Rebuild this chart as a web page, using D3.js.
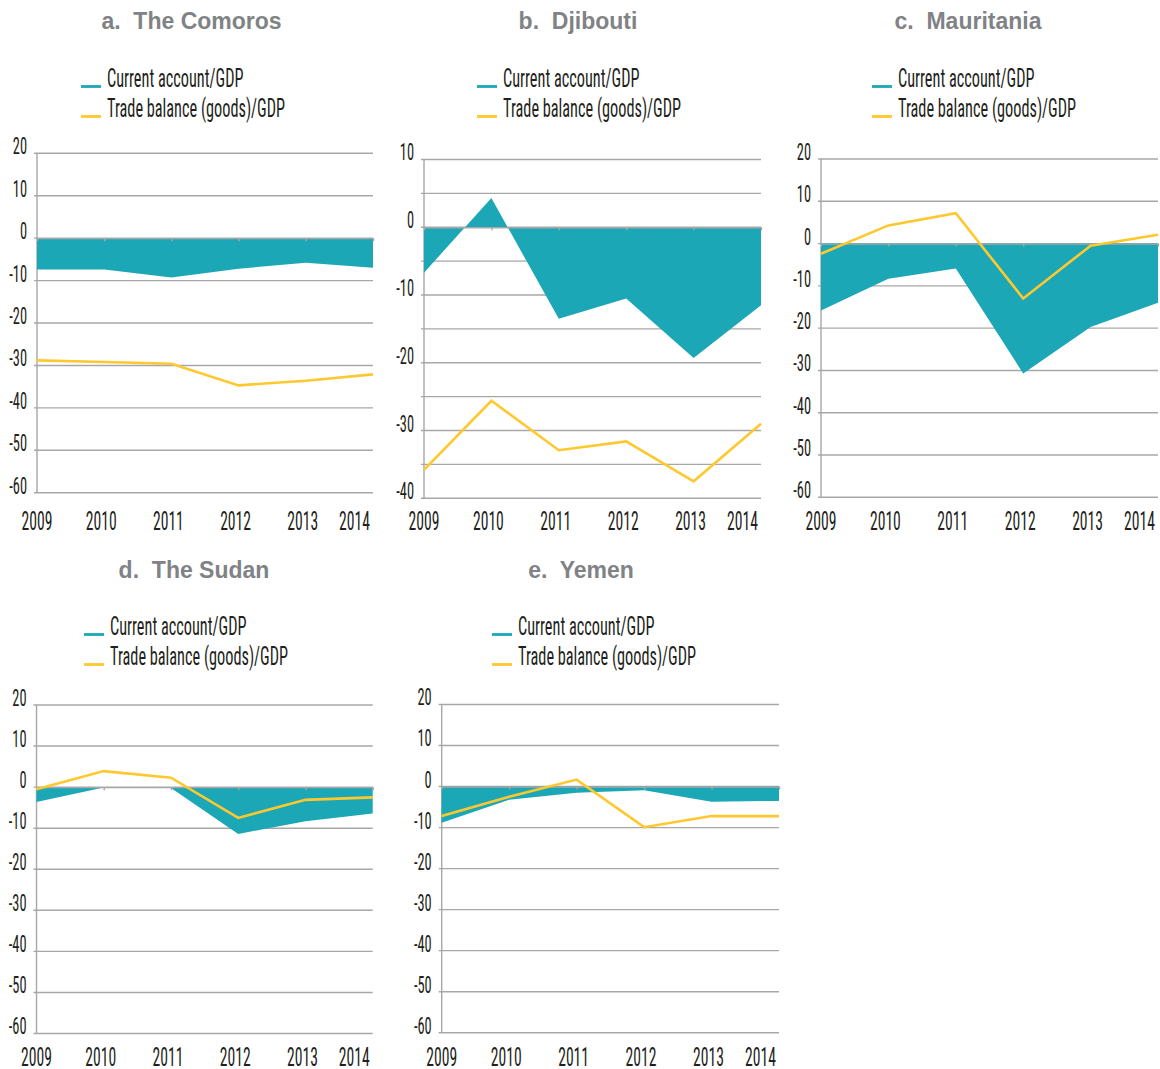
<!DOCTYPE html>
<meta charset="utf-8">
<style>
body { margin: 0; background: #fff; }
.cond { font-family: "Liberation Sans Narrow", "Arial Narrow", "Roboto Condensed", "DejaVu Sans Condensed", "Liberation Sans", sans-serif; fill: #231f20; }
.title { font-family: "Liberation Sans", Arial, sans-serif; font-weight: bold; font-size: 23px; fill: #808285; white-space: pre; }
</style>
<svg width="1160" height="1069"></svg>
<script src="https://d3js.org/d3.v7.min.js"></script>
<script>

// values (% of GDP)
var years = [2009, 2010, 2011, 2012, 2013, 2014];
var comorosCA = [-7.4, -7.4, -9.3, -7.2, -5.8, -7.0];
var comorosTrade = [-28.8, -29.2, -29.6, -34.7, -33.6, -32.1];
var djiboutiCA = [-6.7, 4.3, -13.5, -10.5, -19.3, -11.5];
var djiboutiTrade = [-35.8, -25.6, -32.9, -31.6, -37.5, -29.0];
var mauritaniaCA = [-15.8, -8.3, -5.9, -30.7, -19.7, -14.0];
var mauritaniaTrade = [-2.4, 4.3, 7.2, -13.0, -0.5, 2.1];
var sudanCA = [-3.6, -0.1, -0.2, -11.4, -8.3, -6.4];
var sudanTrade = [-0.5, 3.9, 2.3, -7.5, -3.1, -2.5];
var yemenCA = [-8.8, -3.2, -1.5, -0.9, -3.7, -3.5];
var yemenTrade = [-7.2, -2.5, 1.7, -9.9, -7.2, -7.2];

var titles = ["a.  The Comoros", "b.  Djibouti", "c.  Mauritania", "d.  The Sudan", "e.  Yemen"];
var legendLabels = ["Current account/GDP", "Trade balance (goods)/GDP"];

var panels = [
    { ca: comorosCA, trade: comorosTrade, domain: [-60, 20], grid: 10, label: 10 },
    { ca: djiboutiCA, trade: djiboutiTrade, domain: [-40, 10], grid: 5, label: 10 },
    { ca: mauritaniaCA, trade: mauritaniaTrade, domain: [-60, 20], grid: 10, label: 10 },
    { ca: sudanCA, trade: sudanTrade, domain: [-60, 20], grid: 10, label: 10 },
    { ca: yemenCA, trade: yemenTrade, domain: [-60, 20], grid: 10, label: 10 }
];

// where each small chart sits on the page
var layout = [
    { left: 37, right: 373, top: 153.3, bottom: 492.7, titleX: 191.5, legendX: 81, row: 0 },
    { left: 424, right: 761, top: 159.5, bottom: 498.3, titleX: 578, legendX: 477, row: 0 },
    { left: 821, right: 1158, top: 159, bottom: 497.3, titleX: 968, legendX: 872, row: 0 },
    { left: 36.5, right: 372.7, top: 705, bottom: 1033.5, titleX: 194, legendX: 84, row: 1 },
    { left: 441.7, right: 779, top: 704.5, bottom: 1032.7, titleX: 581, legendX: 492, row: 1 }
];
var rows = [
    { titleY: 29, legendY: [87, 117], yearY: 530 },
    { titleY: 578, legendY: [635, 665], yearY: 1066 }
];

var teal = "#1ca7b6",
    yellow = "#fec82e",
    gridColor = "#a7a7a7";

var svg = d3.select("svg");

// the original uses a very condensed face; squeeze whatever narrow font we have to match
var probe = svg.append("text").attr("class", "cond").style("font-size", "26px").text(legendLabels[0]);
var squeeze = 136.5 / probe.node().getComputedTextLength();
probe.remove();

function condense(sel) {
    sel.each(function() {
        var w = this.getComputedTextLength();
        d3.select(this).attr("textLength", w * squeeze).attr("lengthAdjust", "spacingAndGlyphs");
    });
}

panels.forEach(function(p, i) {
    var L = layout[i], R = rows[L.row];
    var g = svg.append("g");

    var x = d3.scaleLinear().domain([years[0], years[years.length - 1]]).range([L.left, L.right]);
    var y = d3.scaleLinear().domain(p.domain).range([L.bottom, L.top]);

    // title
    g.append("text").attr("class", "title")
        .attr("x", L.titleX).attr("y", R.titleY)
        .attr("text-anchor", "middle")
        .text(titles[i]);

    // legend
    [teal, yellow].forEach(function(c, k) {
        g.append("line")
            .attr("x1", L.legendX).attr("x2", L.legendX + 20)
            .attr("y1", R.legendY[k] - 0.5).attr("y2", R.legendY[k] - 0.5)
            .attr("stroke", c).attr("stroke-width", 2.8);
        g.append("text").attr("class", "cond")
            .attr("x", L.legendX + 26).attr("y", R.legendY[k])
            .style("font-size", "26px")
            .text(legendLabels[k])
            .call(condense);
    });

    // horizontal gridlines
    var gridTicks = d3.range(p.domain[0], p.domain[1] + 0.01, p.grid);
    g.append("g").selectAll("line")
        .data(gridTicks)
        .enter().append("line")
        .attr("x1", L.left - 3).attr("x2", L.right)
        .attr("y1", function(d) { return y(d); })
        .attr("y2", function(d) { return y(d); })
        .attr("stroke", gridColor).attr("stroke-width", 1.4);

    // value axis line
    g.append("line")
        .attr("x1", L.left).attr("x2", L.left)
        .attr("y1", y(p.domain[1])).attr("y2", y(p.domain[0]))
        .attr("stroke", gridColor).attr("stroke-width", 1.4);

    // current account as a filled area against zero
    var area = d3.area()
        .x(function(d, j) { return x(years[j]); })
        .y0(y(0))
        .y1(function(d) { return y(d); });
    g.append("path").datum(p.ca)
        .attr("d", area)
        .attr("fill", teal);

    // category axis on the zero line
    var zero = g.append("g")
        .attr("transform", "translate(0," + y(0) + ")")
        .call(d3.axisBottom(x).tickValues(years).tickSize(3).tickSizeOuter(0).tickFormat(""));
    zero.selectAll("path, line").attr("stroke", gridColor).attr("stroke-width", 1.4);

    // trade balance line
    var line = d3.line()
        .x(function(d, j) { return x(years[j]); })
        .y(function(d) { return y(d); });
    g.append("path").datum(p.trade)
        .attr("d", line)
        .attr("fill", "none")
        .attr("stroke", yellow)
        .attr("stroke-width", 2.6)
        .attr("stroke-linejoin", "miter");

    // value labels
    var yAxis = g.append("g")
        .attr("transform", "translate(" + L.left + ",0)")
        .call(d3.axisLeft(y)
            .tickValues(d3.range(p.domain[0], p.domain[1] + 0.01, p.label))
            .tickSize(0).tickPadding(10)
            .tickFormat(function(d) { return String(d); }));
    yAxis.select(".domain").remove();
    yAxis.selectAll("text")
        .attr("class", "cond")
        .attr("dy", "0.02em")
        .attr("font-family", null).attr("fill", null)
        .style("font-size", "23px")
        .call(condense);

    // year labels
    g.append("g").selectAll("text")
        .data(years)
        .enter().append("text")
        .attr("class", "cond")
        .attr("x", function(d, j) { return j === 0 ? x(d) : x(d) - 3; })
        .attr("y", R.yearY)
        .attr("text-anchor", function(d, j) { return j === years.length - 1 ? "end" : "middle"; })
        .style("font-size", "25px")
        .text(function(d) { return d; })
        .call(condense);
});

</script>
